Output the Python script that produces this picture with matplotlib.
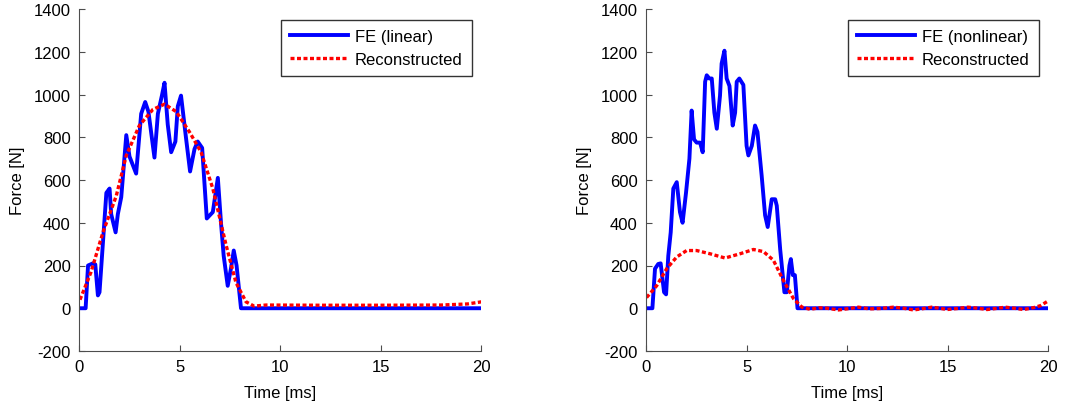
import matplotlib
matplotlib.use("Agg")
import matplotlib.pyplot as plt

plt.rcParams['font.family'] = ['Liberation Sans', 'DejaVu Sans']
plt.rcParams['axes.unicode_minus'] = False

# --- left panel: linear FE vs reconstruction ---
lin_fe_t = [0, 0.33, 0.45, 0.69, 0.81, 0.94, 1.02, 1.36, 1.52, 1.6, 1.82, 1.93, 2.1,
            2.35, 2.51, 2.84, 3.09, 3.29, 3.45, 3.75, 3.92, 4.12, 4.25, 4.41, 4.58,
            4.79, 4.91, 5.07, 5.32, 5.52, 5.74, 5.9, 6.12, 6.35, 6.65, 6.9, 7.06,
            7.19, 7.39, 7.55, 7.69, 7.83, 8.05, 20]
lin_fe_f = [0, 0, 200, 210, 205, 60, 75, 540, 560, 440, 355, 440, 520,
            810, 710, 630, 910, 965, 920, 705, 910, 995, 1055, 860, 730,
            780, 945, 995, 795, 640, 745, 780, 750, 420, 450, 610, 395,
            245, 105, 185, 270, 200, 0, 0]

lin_rec_t = [0.05, 0.6, 1.19, 1.85, 2.35, 3.0, 3.67, 4.25, 4.83, 5.49, 6.07, 6.65,
             7.31, 7.8, 8.3, 8.7, 9.3, 12, 15, 18, 19.3, 20]
lin_rec_f = [40, 170, 355, 525, 715, 855, 930, 955, 920, 825, 730, 560,
             295, 120, 30, 10, 15, 14, 14, 15, 20, 30]

# --- right panel: nonlinear FE vs reconstruction ---
nl_fe_t = [0, 0.32, 0.45, 0.61, 0.73, 0.9, 1.0, 1.11, 1.23, 1.36, 1.53, 1.69, 1.82,
           1.99, 2.16, 2.27, 2.39, 2.52, 2.69, 2.82, 2.94, 3.02, 3.15, 3.27, 3.4,
           3.52, 3.68, 3.76, 3.9, 4.01, 4.15, 4.31, 4.43, 4.51, 4.64, 4.84, 5.0,
           5.09, 5.26, 5.42, 5.54, 5.75, 5.92, 6.05, 6.25, 6.42, 6.5, 6.67, 6.88,
           7.0, 7.13, 7.2, 7.3, 7.4, 7.53, 20]
nl_fe_f = [0, 0, 185, 207, 210, 75, 65, 245, 355, 560, 590, 450, 400,
           540, 700, 925, 790, 775, 775, 730, 1060, 1090, 1075, 1075, 915,
           840, 995, 1145, 1205, 1075, 1040, 855, 915, 1060, 1075, 1045, 760,
           715, 760, 855, 825, 620, 435, 380, 510, 510, 480, 275, 75,
           75, 200, 230, 155, 155, 0, 0]

nl_rec_t = [0.03, 0.53, 1.03, 1.53, 2.02, 2.52, 3.18, 3.93, 4.68, 5.34, 5.84,
            6.33, 6.83, 7.33, 7.75, 8.16, 8.6, 9.0, 9.57, 10.05, 10.56, 11.1,
            11.7, 12.3, 12.8, 13.3, 13.75, 14.2, 14.6, 14.96, 15.5, 16.0, 16.5,
            16.95, 17.4, 17.86, 18.3, 18.77, 19.27, 19.6, 20]
nl_rec_f = [50, 105, 185, 240, 270, 270, 255, 235, 255, 275, 265,
            225, 130, 45, 5, -5, 2, 0, -8, -2, 5, -3,
            -1, 5, 0, -8, -2, 5, 0, -6, -1, 5, 0,
            -6, -1, 5, 0, -6, 3, 12, 35]

panels = [
    (0.073, lin_fe_t, lin_fe_f, lin_rec_t, lin_rec_f, 'FE (linear)'),
    (0.597, nl_fe_t, nl_fe_f, nl_rec_t, nl_rec_f, 'FE (nonlinear)'),
]

fig = plt.figure(figsize=(10.82, 4.1), dpi=100)

for left, fe_t, fe_f, rec_t, rec_f, fe_label in panels:
    ax = fig.add_axes([left, 0.1415, 0.372, 0.834])
    ax.plot(fe_t, fe_f, color='#0000ff', lw=2.8, solid_joinstyle='round',
            label=fe_label)
    ax.plot(rec_t, rec_f, color='#ff0000', lw=2.4, dashes=(1.2, 0.75),
            label='Reconstructed')

    ax.set_xlim(0, 20)
    ax.set_ylim(-200, 1400)
    ax.set_xticks([0, 5, 10, 15, 20])
    ax.set_yticks(range(-200, 1401, 200))
    ax.set_xlabel('Time [ms]', fontsize=12, labelpad=8)
    ax.set_ylabel('Force [N]', fontsize=12, labelpad=6)

    # MATLAB style: box off, inward ticks
    ax.spines['top'].set_visible(False)
    ax.spines['right'].set_visible(False)
    for s in ('left', 'bottom'):
        ax.spines[s].set_color('#4d4d4d')
    ax.tick_params(direction='in', length=4, color='#4d4d4d', labelsize=12,
                   labelcolor='black', pad=6)

    leg = ax.legend(loc='upper right', fontsize=12, fancybox=False,
                    framealpha=1, edgecolor='#333333', handlelength=3.5,
                    handletextpad=0.4, borderpad=0.55, labelspacing=0.45,
                    borderaxespad=0, bbox_to_anchor=(0.976, 0.968))
    leg.get_frame().set_linewidth(1.0)

fig.savefig('out.png', dpi=100)
